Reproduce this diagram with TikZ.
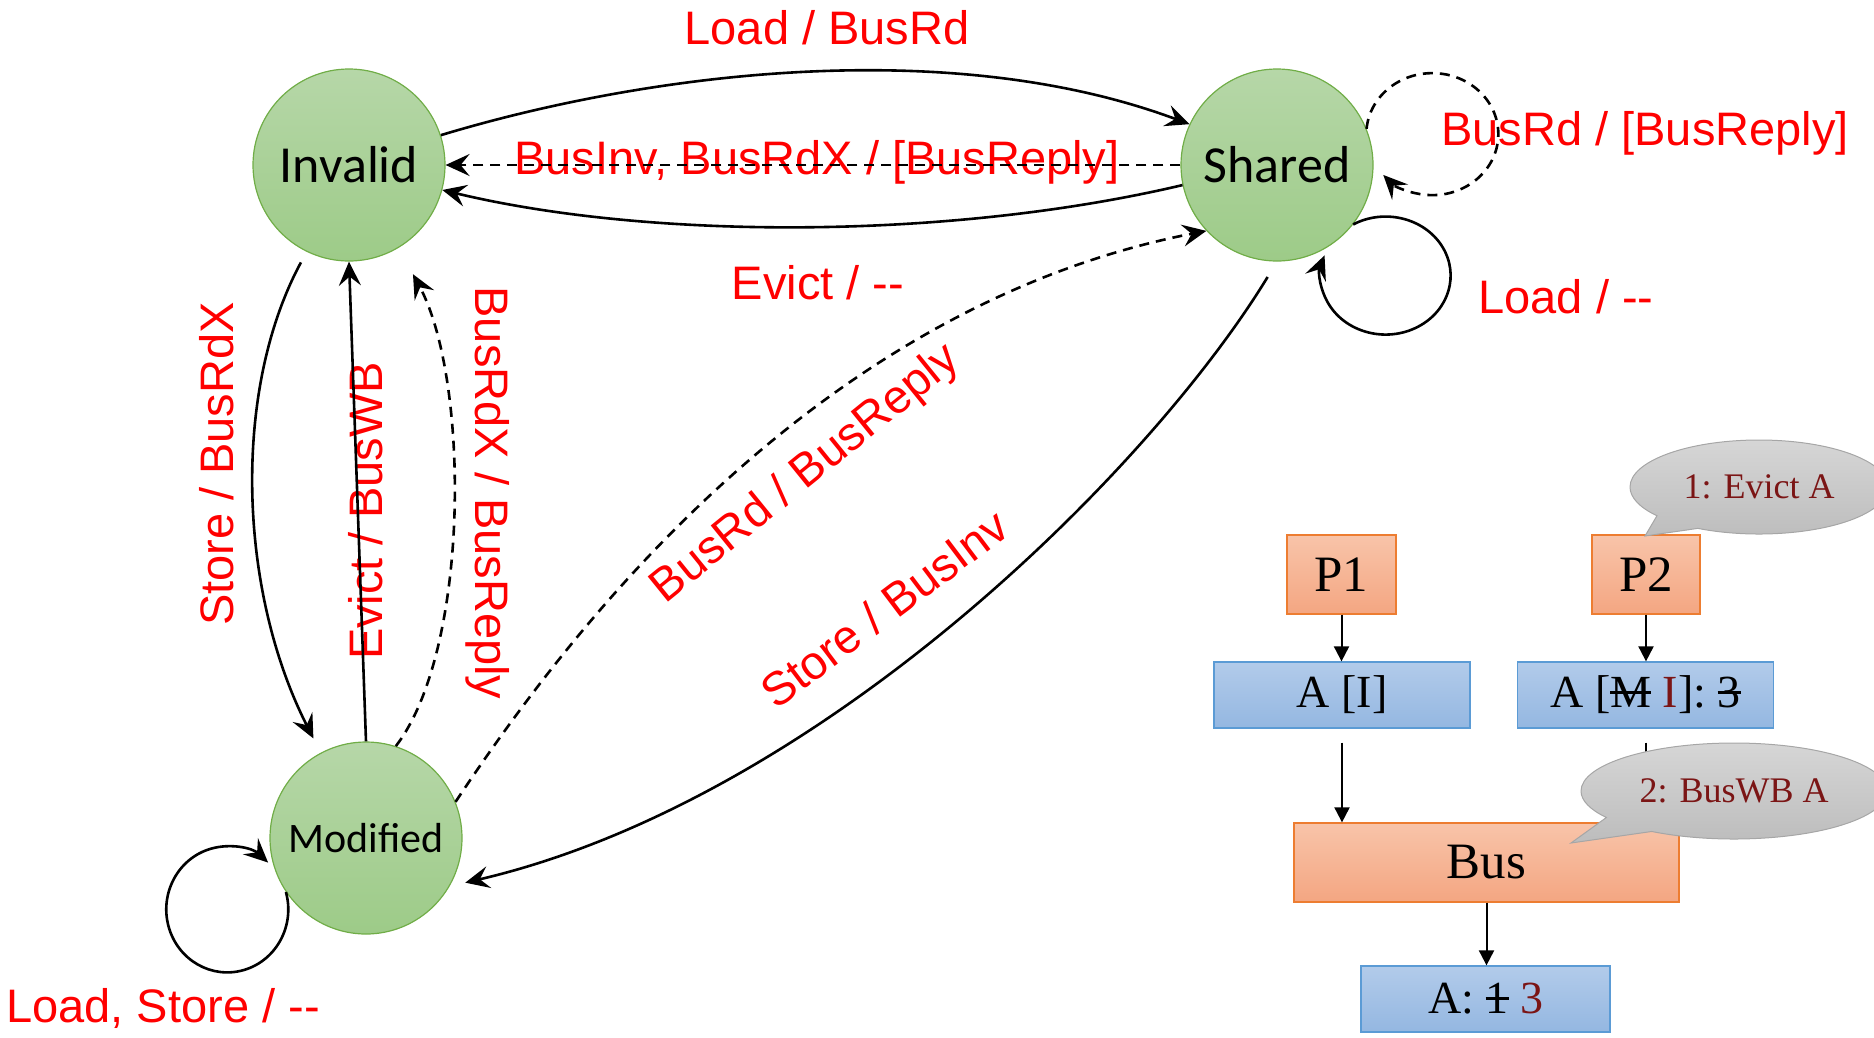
\documentclass[tikz,border=0pt]{standalone}
\usepackage{fontspec}
\setmainfont{Liberation Sans}
\newfontfamily\serifface{Liberation Serif}
\newfontfamily\stateface{Carlito}
\usetikzlibrary{arrows.meta,shapes.callouts}

\definecolor{labred}{HTML}{FF0000}
\definecolor{notered}{HTML}{7B1515}
\definecolor{stateTop}{HTML}{B6D7A8}
\definecolor{stateBot}{HTML}{9DCB88}
\definecolor{stateLine}{HTML}{70AD47}
\definecolor{orTop}{HTML}{F8C4A9}
\definecolor{orBot}{HTML}{F4A682}
\definecolor{orLine}{HTML}{ED7D31}
\definecolor{blTop}{HTML}{B2CBEA}
\definecolor{blBot}{HTML}{94B7E1}
\definecolor{blLine}{HTML}{5B9BD5}
\definecolor{calTop}{HTML}{D6D6D6}
\definecolor{calBot}{HTML}{BCBCBC}
\definecolor{calLine}{HTML}{A6A6A6}

% struck-out text
\newcommand\strk[1]{\leavevmode\setbox0=\hbox{#1}\rlap{\rule[0.3em]{\wd0}{0.06em}}\box0\relax}

\tikzset{
  state/.style={circle, minimum size=192pt, inner sep=0pt, draw=stateLine, line width=1.2pt,
    top color=stateTop, bottom color=stateBot, font=\stateface\fontsize{52}{60}\selectfont},
  trans/.style={line width=2.6pt, -{Stealth[length=24pt,width=22pt,inset=9pt]}},
  dashtrans/.style={trans, dash pattern=on 10pt off 7pt},
  lab/.style={text=labred, inner sep=0pt, font=\fontsize{47}{56}\selectfont},
  obox/.style={draw=orLine, line width=1.3pt, top color=orTop, bottom color=orBot, inner sep=0pt,
    font=\serifface\fontsize{51}{60}\selectfont},
  bbox/.style={draw=blLine, line width=1.3pt, top color=blTop, bottom color=blBot, inner sep=0pt,
    font=\serifface\fontsize{46}{55}\selectfont},
  note/.style={ellipse callout, draw=calLine, line width=1pt, top color=calTop, bottom color=calBot,
    inner sep=0pt, text=notered, font=\serifface\fontsize{36}{42}\selectfont, callout pointer arc=24},
  boxarrow/.style={line width=2pt, -{Triangle[length=15pt,width=15pt]}},
}

\begin{document}
\begin{tikzpicture}[x=1pt, y=-1pt]
\useasboundingbox (0,0) rectangle (1874,1037);

% ---- transition labels ----
\node[lab, anchor=base] (lLoadRd) at (827,44) {Load / BusRd};
\node[lab, anchor=base] (lInv) at (817,174) {BusInv, BusRdX / [BusReply]};
\node[lab, anchor=base] (lEvictS) at (818,299) {Evict / -{}-};
\node[lab, anchor=base] (lSelfRd) at (1645,145) {BusRd / [BusReply]};
\node[lab, anchor=base] (lSelfLd) at (1566,313) {Load / -{}-};
\node[lab, anchor=base] (lSelfM) at (163,1022) {Load, Store / -{}-};
\node[lab, anchor=base, rotate=90] (lStoreX) at (233,464) {Store / BusRdX};
\node[lab, anchor=base, rotate=90] (lEvictWB) at (382,511) {Evict / BusWB};
\node[lab, anchor=base, rotate=-90] (lRdXReply) at (475,493) {BusRdX / BusReply};
\node[lab, anchor=base, rotate=39] (lRdReply) at (814,484) {BusRd / BusReply};
\node[lab, anchor=base, rotate=37] (lStoreInv) at (894,622) {Store / BusInv};

% ---- states ----
\node[state] (Invalid) at (349,165) {Invalid};
\node[state] (Shared) at (1277,165) {Shared};
\node[state, font=\stateface\fontsize{42}{50}\selectfont] (Modified) at (366,838) {Modified};

% ---- transitions ----
\draw[trans] (Invalid.18) .. controls (650,72) and (950,35) .. (Shared.155);
\draw[dashtrans] (Shared.west) -- (Invalid.east);
\draw[trans] (Shared.192) .. controls (950,240) and (650,240) .. (Invalid.345);
\draw[trans, shorten <=12pt, shorten >=16pt] (Invalid.244) .. controls (232,390) and (238,590) .. (Modified.118);
\draw[trans] (Modified.north) -- (Invalid.south);
\draw[dashtrans, shorten >=30pt] (Modified.72) .. controls (470,650) and (470,380) .. (Invalid.301);
\draw[dashtrans] (Modified.22) .. controls (550,660) and (800,310) .. (Shared.223);
\draw[trans, shorten <=18pt, shorten >=16pt] (Shared.south) .. controls (1150,470) and (820,800) .. (Modified.330);

% self loops
\draw[dashtrans] (Shared.22) arc[start angle=175, end angle=-138, x radius=66pt, y radius=61pt];
\draw[trans] (Shared.-38) arc[start angle=120, end angle=-200, x radius=65pt, y radius=59pt];
\draw[trans] (Modified.214) arc[start angle=16, end angle=-312, x radius=61pt, y radius=63pt];

% ---- processors, caches, bus, memory ----
\node[obox, minimum width=109pt, minimum height=79pt] (P1) at (1341.5,574.5) {P1};
\node[obox, minimum width=108pt, minimum height=79pt] (P2) at (1646,574.5) {P2};
\node[bbox, minimum width=256pt, minimum height=66pt] (AI) at (1342,695) {A [I]};
\node[bbox, minimum width=256pt, minimum height=66pt] (AMI) at (1645.5,695) {A [\strk{M} {\color{notered}I}]: \strk{3}};
\node[obox, minimum width=385pt, minimum height=79pt] (Bus) at (1486.5,862.5) {Bus};
\node[bbox, minimum width=249pt, minimum height=66pt] (Mem) at (1485.5,999) {A: \strk{1} {\color{notered}3}};

\draw[boxarrow] (P1.south) -- (P1.south |- AI.north);
\draw[boxarrow] (P2.south) -- (P2.south |- AMI.north);
\draw[boxarrow, shorten <=14pt] (AI.south) -- (AI.south |- Bus.north);
\draw[boxarrow, shorten <=14pt] (AMI.south) -- (AMI.south |- Bus.north);
\draw[boxarrow] (Bus.south) -- (Bus.south |- Mem.north);

% ---- event notes ----
\node[note, minimum width=258pt, minimum height=94pt, callout absolute pointer={(1645,536)}] (N1) at (1759,487) {1: Evict A};
\node[note, minimum width=306pt, minimum height=96pt, callout absolute pointer={(1571,843)}] (N2) at (1734,791) {2: BusWB A};
\end{tikzpicture}
\end{document}
